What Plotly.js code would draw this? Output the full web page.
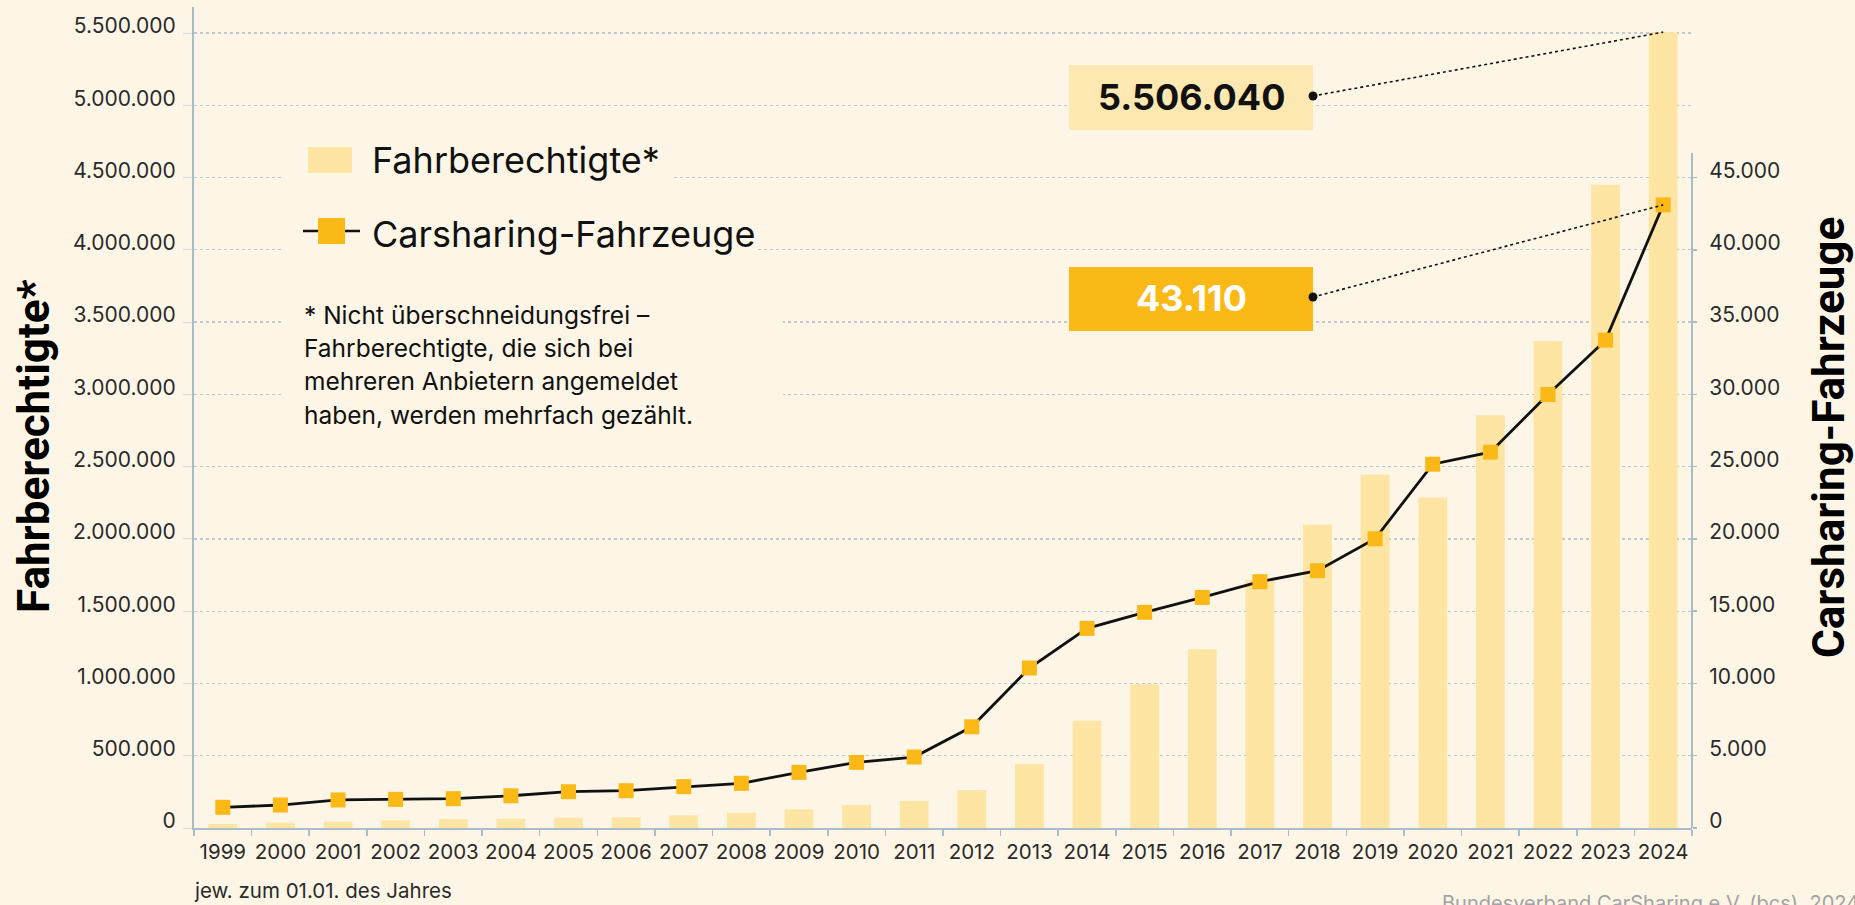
<!DOCTYPE html>
<html>
<head>
<meta charset="utf-8">
<script src="https://cdn.plot.ly/plotly-3.0.1.min.js"></script>
<style>
html,body{margin:0;padding:0;background:#fdf6e6;}
#chart{width:1855px;height:905px;}
</style>
</head>
<body>
<div id="chart"></div>
<script>
// ---- data ----
const years = ['1999','2000','2001','2002','2003','2004','2005','2006','2007','2008','2009','2010','2011','2012','2013','2014','2015','2016','2017','2018','2019','2020','2021','2022','2023','2024'];
const fahrberechtigte = [28000, 37000, 44000, 53000, 62000, 64000, 71000, 74000, 87000, 106000, 129000, 159000, 187000, 263000, 443000, 742000, 995000, 1236000, 1715000, 2100000, 2445000, 2287000, 2855000, 3370000, 4450000, 5506040];
const fahrzeuge = [1430, 1590, 1940, 1980, 2030, 2230, 2510, 2580, 2860, 3090, 3850, 4540, 4910, 7000, 11070, 13810, 14920, 15950, 17040, 17800, 20010, 25170, 26000, 29990, 33750, 43110];
const leftTickVals = [0, 500000, 1000000, 1500000, 2000000, 2500000, 3000000, 3500000, 4000000, 4500000, 5000000, 5500000];
const leftTickText = ['0', '500.000', '1.000.000', '1.500.000', '2.000.000', '2.500.000', '3.000.000', '3.500.000', '4.000.000', '4.500.000', '5.000.000', '5.500.000'];
const rightTickVals = [0, 5000, 10000, 15000, 20000, 25000, 30000, 35000, 40000, 45000];
const rightTickText = ['0', '5.000', '10.000', '15.000', '20.000', '25.000', '30.000', '35.000', '40.000', '45.000'];
const seriesNames = ['Fahrberechtigte*', 'Carsharing-Fahrzeuge'];
const axisTitles = ['Fahrberechtigte*', 'Carsharing-Fahrzeuge'];
const calloutTexts = ['5.506.040', '43.110'];
const footnoteLines = ['* Nicht überschneidungsfrei –', 'Fahrberechtigte, die sich bei', 'mehreren Anbietern angemeldet', 'haben, werden mehrfach gezählt.'];
const xNote = 'jew. zum 01.01. des Jahres';
const sourceText = 'Bundesverband CarSharing e.V. (bcs), 2024';

// ---- styling ----
const BG = '#fdf6e6';
const BAR = '#fee5a4';
const AMBER = '#fbb918';
const AXIS = '#a9bccb';
const GRID = '#c2c9cb';

const W = 1855, H = 905, ML = 194, MR = 163, MT = 7, MB = 77;
const PW = W - ML - MR, PH = H - MT - MB;
const yMax = 5680000, y2Max = 56800;
const px = x => (x - ML) / PW;
const py = y => (H - MB - y) / PH;

const n = years.length;
const lastIdx = n - 1;
const lastXPaper = (lastIdx + 0.5) / n;
const barTopPaper = fahrberechtigte[lastIdx] / yMax;
const markerPaper = fahrzeuge[lastIdx] / y2Max;

const traces = [
  {
    type: 'bar', x: years, y: fahrberechtigte, name: seriesNames[0],
    marker: {color: BAR, line: {width: 0}}, yaxis: 'y', showlegend: false, hoverinfo: 'x+y'
  },
  {
    type: 'scatter', mode: 'lines+markers', x: years, y: fahrzeuge, name: seriesNames[1],
    yaxis: 'y2', showlegend: false,
    line: {color: '#111111', width: 2.8},
    marker: {symbol: 'square', size: 15, color: AMBER, line: {width: 0}}
  }
];

function rectPx(x0, x1, y0, y1, fill) {
  return {type: 'rect', xref: 'paper', yref: 'paper', x0: px(x0), x1: px(x1), y0: py(y1), y1: py(y0),
          fillcolor: fill, line: {width: 0}, layer: 'above'};
}

const shapes = [
  // background blocks behind legend / footnote (interrupt grid lines)
  rectPx(282, 673, 138, 188, BG),
  rectPx(282, 757, 206, 264, BG),
  rectPx(282, 783, 292, 430, BG),
  // legend swatches
  rectPx(308, 352, 147, 173, BAR),
  {type: 'line', xref: 'paper', yref: 'paper', x0: px(303), x1: px(360), y0: py(231), y1: py(231), line: {color: '#111', width: 2.6}, layer: 'above'},
  rectPx(318, 345, 218, 244, AMBER),
  // callout boxes
  rectPx(1069, 1313, 65, 130, '#fee8b2'),
  rectPx(1069, 1313, 267, 331, AMBER),
  // dotted leader lines to the data points
  {type: 'line', xref: 'paper', yref: 'paper', x0: px(1313), y0: py(96), x1: lastXPaper, y1: barTopPaper,
   line: {color: '#111', width: 1.6, dash: 'dot'}, layer: 'above'},
  {type: 'line', xref: 'paper', yref: 'paper', x0: px(1313), y0: py(297), x1: lastXPaper, y1: markerPaper,
   line: {color: '#111', width: 1.6, dash: 'dot'}, layer: 'above'},
  // dots
  {type: 'circle', xref: 'paper', yref: 'paper', x0: px(1308.5), x1: px(1317.5), y0: py(100.5), y1: py(91.5), fillcolor: '#111', line: {width: 0}, layer: 'above'},
  {type: 'circle', xref: 'paper', yref: 'paper', x0: px(1308.5), x1: px(1317.5), y0: py(301.5), y1: py(292.5), fillcolor: '#111', line: {width: 0}, layer: 'above'},
  // right axis line (shorter than plot height)
  {type: 'line', xref: 'paper', yref: 'paper', x0: 1, x1: 1, y0: 0, y1: py(153), line: {color: AXIS, width: 2}, layer: 'above'}
];

const annotations = [
  {text: seriesNames[0], xref: 'paper', yref: 'paper', x: px(370), y: py(160), xanchor: 'left', yanchor: 'middle', showarrow: false,
   font: {family: 'Inter', size: 36, color: '#111'}},
  {text: seriesNames[1], xref: 'paper', yref: 'paper', x: px(370), y: py(234), xanchor: 'left', yanchor: 'middle', showarrow: false,
   font: {family: 'Inter', size: 36, color: '#111'}},
  ...footnoteLines.map((t, i) => ({text: t, xref: 'paper', yref: 'paper', x: px(302), y: py(315 + i * 33.2), xanchor: 'left', yanchor: 'middle', showarrow: false,
   font: {family: 'Inter', size: 24.5, color: '#111'}})),
  {text: calloutTexts[0], xref: 'paper', yref: 'paper', x: px(1191), y: py(97), xanchor: 'center', yanchor: 'middle', showarrow: false,
   font: {family: 'Inter', size: 36, color: '#111', weight: 700}},
  {text: calloutTexts[1], xref: 'paper', yref: 'paper', x: px(1191), y: py(298), xanchor: 'center', yanchor: 'middle', showarrow: false,
   font: {family: 'Inter', size: 36, color: '#ffffff', weight: 700}},
  {text: axisTitles[0], xref: 'paper', yref: 'paper', x: px(34), y: py(446), xanchor: 'center', yanchor: 'middle', textangle: -90, showarrow: false,
   font: {family: 'Roboto', size: 44, color: '#000', weight: 700}},
  {text: axisTitles[1], xref: 'paper', yref: 'paper', x: px(1829), y: py(438), xanchor: 'center', yanchor: 'middle', textangle: -90, showarrow: false,
   font: {family: 'Roboto', size: 44, color: '#000', weight: 700}},
  {text: xNote, xref: 'paper', yref: 'paper', x: px(192), y: py(890), xanchor: 'left', yanchor: 'middle', showarrow: false,
   font: {family: 'Inter', size: 20.5, color: '#2a2a2a'}},
  {text: sourceText, xref: 'paper', yref: 'paper', x: px(1440), y: py(903), xanchor: 'left', yanchor: 'middle', showarrow: false,
   font: {family: 'Inter', size: 20, color: '#a3a3a3'}}
];

const layout = {
  width: W, height: H,
  margin: {l: ML, r: MR, t: MT, b: MB, pad: 0},
  paper_bgcolor: BG, plot_bgcolor: BG,
  bargap: 0.5,
  showlegend: false,
  xaxis: {
    type: 'category', range: [-0.5, n - 0.5], tickson: 'boundaries', tickangle: 0,
    ticks: 'outside', ticklen: 6, tickwidth: 1.5, tickcolor: AXIS,
    showline: true, linecolor: AXIS, linewidth: 2, showgrid: false, zeroline: false,
    tickfont: {family: 'Inter', size: 20.5, color: '#2a2a2a'}, ticklabelstandoff: 4
  },
  yaxis: {
    range: [0, yMax], tickvals: leftTickVals, ticktext: leftTickText,
    showgrid: true, gridcolor: GRID, griddash: 'dot', gridwidth: 1.3,
    showline: true, linecolor: AXIS, linewidth: 2, zeroline: false,
    ticks: 'outside', ticklen: 9, tickwidth: 1, tickcolor: '#d6dad6',
    tickfont: {family: 'Inter', size: 21, color: '#2a2a2a'}, ticklabelshift: -7, ticklabelstandoff: 3
  },
  yaxis2: {
    overlaying: 'y', side: 'right', anchor: 'x',
    range: [0, y2Max], tickvals: rightTickVals, ticktext: rightTickText,
    showgrid: false, showline: false, zeroline: false,
    ticks: 'outside', ticklen: 4, tickwidth: 1.5, tickcolor: AXIS,
    tickfont: {family: 'Inter', size: 21, color: '#2a2a2a'}, ticklabelshift: -7, ticklabelstandoff: 8
  },
  shapes: shapes,
  annotations: annotations
};

Plotly.newPlot('chart', traces, layout, {displayModeBar: false, staticPlot: true});
</script>
</body>
</html>
